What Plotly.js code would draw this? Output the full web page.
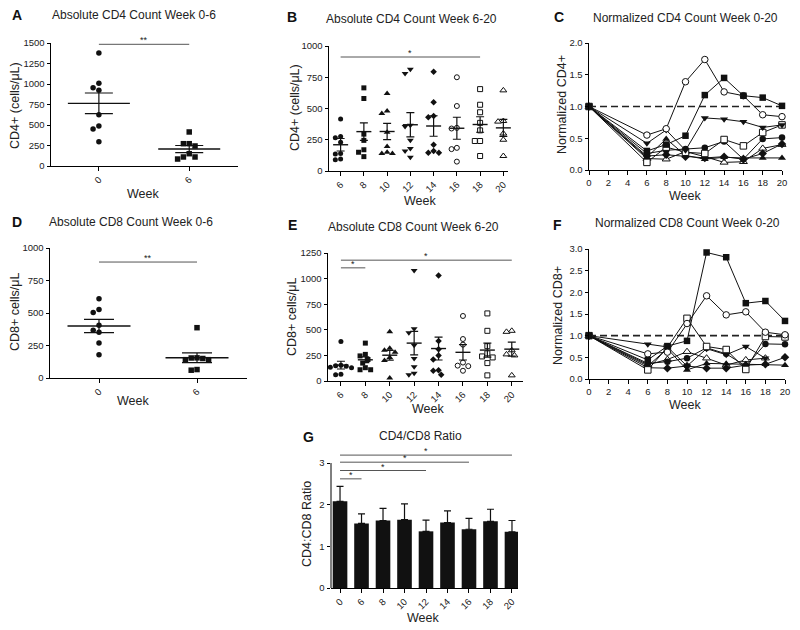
<!DOCTYPE html>
<html><head><meta charset="utf-8">
<script src="https://cdn.plot.ly/plotly-3.0.1.min.js"></script>
<style>html,body{margin:0;padding:0;background:#fff}#chart{width:800px;height:630px}</style>
</head><body><div id="chart"></div>
<script>
// ================= DATA =================
// Panel A: absolute CD4, week 0-6
const weeksA = ['0', '6'];
const cd4Week0to6 = [[1378, 1008, 955, 923, 626, 488, 451, 297], [415, 272, 244, 272, 110, 85, 110, 150]];
const cd4Week0to6Mean = [764, 207];
const cd4Week0to6Sem = [126, 43];
const sigA_from = [0], sigA_to = [1], sigA_y = [1484], sigA_label = ['**'];

// Panel B: absolute CD4, week 6-20
const weeksB = ['6', '8', '10', '12', '14', '16', '18', '20'];
const cd4Week6to20 = [
  [415, 275, 265, 230, 140, 135, 95, 90],
  [665, 580, 295, 245, 170, 150, 115],
  [620, 480, 460, 310, 195, 150, 140, 140],
  [815, 780, 365, 355, 245, 180, 160, 110],
  [795, 550, 440, 430, 210, 160, 145, 145],
  [750, 520, 345, 340, 185, 175, 75],
  [655, 530, 470, 385, 325, 240, 240, 120],
  [645, 400, 395, 300, 250, 120]
];
const cd4Week6to20Mean = [210, 315, 316, 370, 360, 342, 372, 345];
const cd4Week6to20Sem = [50, 70, 65, 97, 82, 88, 62, 68];
const sigB_from = [0], sigB_to = [6], sigB_y = [912], sigB_label = ['*'];

// Panel C: normalized CD4, week 0-20 (one line per animal)
const weeksLine = [0, 6, 8, 10, 12, 14, 16, 18, 20];
const cd4NormOpenCircle   = [1, 0.55, 0.65, 1.39, 1.74, 1.23, 1.17, 0.87, 0.84];
const cd4NormFilledSquare = [1, 0.30, 0.40, 0.54, 1.18, 1.45, 1.17, 1.14, 1.01];
const cd4NormTriDown      = [1, 0.42, 0.63, 0.31, 0.82, 0.80, 0.76, 0.67, 0.71];
const cd4NormOpenSquare   = [1, 0.12, 0.36, 0.28, 0.26, 0.48, 0.38, 0.59, 0.71];
const cd4NormFilledCircle = [1, 0.26, 0.31, 0.33, 0.35, 0.45, 0.17, 0.49, 0.51];
const cd4NormDiamond      = [1, 0.22, 0.24, 0.21, 0.19, 0.21, 0.17, 0.26, 0.41];
const cd4NormTriUp        = [1, 0.20, 0.49, 0.23, 0.17, 0.20, 0.19, 0.19, 0.19];
const cd4NormOpenTriUp    = [1, 0.18, 0.17, 0.29, 0.21, 0.12, 0.13, 0.34, 0.40];

// Panel D: absolute CD8, week 0-6
const weeksD = ['0', '6'];
const cd8Week0to6 = [[610, 503, 526, 405, 351, 367, 269, 179], [387, 154, 141, 141, 150, 155, 60, 65]];
const cd8Week0to6Mean = [400, 156];
const cd8Week0to6Sem = [51, 37];
const sigD_from = [0], sigD_to = [1], sigD_y = [892], sigD_label = ['**'];

// Panel E: absolute CD8, week 6-20
const weeksE = ['6', '8', '10', '12', '14', '16', '18', '20'];
const cd8Week6to20 = [
  [385, 155, 150, 145, 135, 130, 65, 60],
  [370, 260, 245, 210, 175, 130, 110, 110],
  [480, 320, 300, 280, 230, 200, 30],
  [1080, 510, 470, 350, 220, 140, 75, 60],
  [1030, 390, 310, 250, 210, 105, 100, 60],
  [635, 410, 355, 180, 150, 145, 100],
  [660, 490, 340, 270, 240, 230, 175, 55],
  [490, 480, 300, 260, 250, 55]
];
const cd8Week6to20Mean = [155, 207, 252, 370, 317, 280, 302, 311];
const cd8Week6to20Sem = [38, 28, 48, 115, 112, 75, 68, 68];
const sigE_from = [0, 0], sigE_to = [1, 7], sigE_y = [1105, 1180], sigE_label = ['*', '*'];

// Panel F: normalized CD8, week 0-20
const cd8NormFilledSquare = [1, 0.44, 0.76, 0.88, 2.92, 2.81, 1.75, 1.80, 1.34];
const cd8NormOpenCircle   = [1, 0.58, 0.62, 1.28, 1.92, 1.48, 1.55, 1.08, 1.02];
const cd8NormOpenSquare   = [1, 0.21, 0.73, 1.40, 0.75, 0.68, 0.22, 0.98, 0.97];
const cd8NormTriDown      = [1, 0.80, 0.74, 0.30, 0.70, 0.56, 0.75, 0.48, null];
const cd8NormFilledCircle = [1, 0.36, 0.40, 0.48, 0.72, 0.58, 0.30, 0.81, 0.80];
const cd8NormDiamond      = [1, 0.26, 0.25, 0.30, 0.25, 0.25, 0.32, 0.34, 0.50];
const cd8NormTriUp        = [1, 0.30, 0.70, 0.21, 0.36, 0.35, 0.34, 0.34, 0.32];
const cd8NormOpenTriUp    = [1, 0.33, 0.45, 0.63, 0.48, 0.32, 0.44, 0.48, null];

// Panel G: CD4/CD8 ratio
const weeksG = ['0', '6', '8', '10', '12', '14', '16', '18', '20'];
const cd4cd8Ratio = [2.08, 1.55, 1.62, 1.64, 1.36, 1.57, 1.41, 1.60, 1.35];
const cd4cd8RatioErr = [0.36, 0.23, 0.29, 0.38, 0.27, 0.28, 0.26, 0.29, 0.27];
const sigG_from = [0, 0, 0, 0], sigG_to = [1, 4, 6, 8], sigG_y = [2.62, 2.82, 3.02, 3.19], sigG_label = ['*', '*', '*', '*'];

// ================= LAYOUT HELPERS =================
const W = 800, H = 630;
const FONT = 'Liberation Sans, Arial, sans-serif';
const INK = '#111';
const px = (x) => x / W;
const py = (y) => 1 - y / H;
const domX = (a, b) => [px(a), px(b)];
const domY = (top, bottom) => [py(bottom), py(top)];

const axBase = {
  showline: true, linecolor: '#000', linewidth: 1, mirror: false,
  ticks: 'outside', ticklen: 3.5, tickwidth: 1, tickcolor: '#000',
  showgrid: false, zeroline: false, fixedrange: true,
  tickfont: { family: FONT, size: 9.5, color: '#222' }
};
function catX(anchor, dom, range, labels) {
  return Object.assign({}, axBase, { anchor, domain: dom, range, tickmode: 'array',
    tickvals: labels.map((_, i) => i), ticktext: labels, tickangle: -45 });
}
function linY(anchor, dom, range, dtick, fmt) {
  return Object.assign({}, axBase, { anchor, domain: dom, range, tickmode: 'linear', tick0: 0, dtick, tickformat: fmt || '' });
}

const P = {
  A: { x: domX(51, 238), y: domY(43, 166), xr: [-0.53, 1.54], yr: [0, 1500] },
  B: { x: domX(329, 508), y: domY(46, 171), xr: [-0.5, 7.2], yr: [0, 1000] },
  C: { x: domX(589, 782), y: domY(43, 170), xr: [0, 20], yr: [0, 2] },
  D: { x: domX(50, 247), y: domY(248, 378), xr: [-0.5, 1.51], yr: [0, 1000] },
  E: { x: domX(328, 523), y: domY(253, 381), xr: [-0.53, 7.46], yr: [0, 1250] },
  F: { x: domX(589, 785), y: domY(249, 379), xr: [0, 20], yr: [0, 3] },
  G: { x: domX(331, 518), y: domY(452.6, 588), xr: [-0.42, 8.28], yr: [0, 3.25] }
};
function scale(p) {
  return { sx: (p.x[1] - p.x[0]) * W / (p.xr[1] - p.xr[0]), sy: (p.y[1] - p.y[0]) * H / (p.yr[1] - p.yr[0]) };
}

// beeswarm-like horizontal offsets (computed, in axis units)
function swarm(vals, sx, sy, d) {
  const step = d / 2;
  const order = vals.map((_, i) => i).sort((a, b) => vals[b] - vals[a]);
  const placed = [], off = new Array(vals.length).fill(0);
  for (const i of order) {
    for (let k = 0; k < 30; k++) {
      const o = k === 0 ? 0 : (k % 2 ? -Math.ceil(k / 2) : Math.ceil(k / 2)) * step;
      let ok = true;
      for (const p of placed) {
        if (Math.hypot(o - p.x, (vals[i] - p.y) * sy) < d - 0.01) { ok = false; break; }
      }
      if (ok) { off[i] = o / sx; placed.push({ x: o, y: vals[i] }); break; }
    }
  }
  return off;
}

const traces = [];
const annotations = [];
const shapes = [];

const SYM = {
  filledCircle: { symbol: 'circle', color: INK, line: { color: INK, width: 0 } },
  filledSquare: { symbol: 'square', color: INK, line: { color: INK, width: 0 } },
  triUp: { symbol: 'triangle-up', color: INK, line: { color: INK, width: 0 } },
  triDown: { symbol: 'triangle-down', color: INK, line: { color: INK, width: 0 } },
  diamond: { symbol: 'diamond', color: INK, line: { color: INK, width: 0 } },
  openCircle: { symbol: 'circle', color: '#fff', line: { color: INK, width: 1 } },
  openSquare: { symbol: 'square', color: '#fff', line: { color: INK, width: 1 } },
  openTriUp: { symbol: 'triangle-up', color: '#fff', line: { color: INK, width: 1 } }
};
const weekSymbols = ['filledCircle', 'filledSquare', 'triUp', 'triDown', 'diamond', 'openCircle', 'openSquare', 'openTriUp'];

function dotPanel(ax, p, groups, symbols, means, sems, size, meanLen, capW) {
  const { sx, sy } = scale(p);
  groups.forEach((vals, gi) => {
    const off = swarm(vals, sx, sy, size + 0.3);
    const s = SYM[symbols[gi]];
    traces.push({
      type: 'scatter', mode: 'markers', xaxis: 'x' + ax, yaxis: 'y' + ax, cliponaxis: false,
      x: vals.map((_, i) => gi + off[i]), y: vals, hoverinfo: 'skip',
      marker: { symbol: s.symbol, size: (s.symbol.indexOf('triangle') === 0 ? size + 1 : size), color: s.color, line: s.line }
    });
  });
  traces.push({
    type: 'scatter', mode: 'markers', xaxis: 'x' + ax, yaxis: 'y' + ax, cliponaxis: false,
    x: means.map((_, i) => i), y: means, hoverinfo: 'skip',
    marker: { symbol: 'line-ew', size: meanLen / 1.4, color: INK, line: { color: INK, width: 1.4 } },
    error_y: { type: 'data', array: sems, visible: true, color: INK, thickness: 1.2, width: capW }
  });
}

function sigLines(ax, from, to, ys, labels, starSize) {
  from.forEach((f, i) => {
    traces.push({ type: 'scatter', mode: 'lines', xaxis: 'x' + ax, yaxis: 'y' + ax, hoverinfo: 'skip',
      x: [f, to[i]], y: [ys[i], ys[i]], line: { color: '#555', width: 1 } });
    annotations.push({ xref: 'x' + ax, yref: 'y' + ax, x: (f + to[i]) / 2, y: ys[i], text: labels[i],
      showarrow: false, yanchor: 'bottom', yshift: -3, font: { family: FONT, size: starSize || 9, color: '#222' } });
  });
}

function linePanel(ax, series) {
  traces.push({ type: 'scatter', mode: 'lines', xaxis: 'x' + ax, yaxis: 'y' + ax, hoverinfo: 'skip',
    x: [weeksLine[0], weeksLine[weeksLine.length - 1]], y: [1, 1], line: { color: '#222', width: 1.6, dash: '7px,4px' } });
  series.forEach(([vals, symName]) => {
    const s = SYM[symName];
    traces.push({ type: 'scatter', mode: 'lines+markers', xaxis: 'x' + ax, yaxis: 'y' + ax, cliponaxis: false,
      hoverinfo: 'skip', connectgaps: false, x: weeksLine, y: vals, line: { color: INK, width: 1 },
      marker: { symbol: s.symbol, size: (s.symbol.indexOf('triangle') === 0 ? 7 : 6.5), color: s.color, line: s.line } });
  });
}

// ---- Panel A ----
dotPanel('', P.A, cd4Week0to6, ['filledCircle', 'filledSquare'], cd4Week0to6Mean, cd4Week0to6Sem, 5.5, 62, 14);
sigLines('', sigA_from, sigA_to, sigA_y, sigA_label);
// ---- Panel B ----
dotPanel('2', P.B, cd4Week6to20, weekSymbols, cd4Week6to20Mean, cd4Week6to20Sem, 5, 15, 4);
sigLines('2', sigB_from, sigB_to, sigB_y, sigB_label);
// ---- Panel C ----
linePanel('3', [
  [cd4NormOpenTriUp, 'openTriUp'], [cd4NormTriUp, 'triUp'], [cd4NormDiamond, 'diamond'],
  [cd4NormFilledCircle, 'filledCircle'], [cd4NormOpenSquare, 'openSquare'], [cd4NormTriDown, 'triDown'],
  [cd4NormOpenCircle, 'openCircle'], [cd4NormFilledSquare, 'filledSquare']
]);
// ---- Panel D ----
dotPanel('4', P.D, cd8Week0to6, ['filledCircle', 'filledSquare'], cd8Week0to6Mean, cd8Week0to6Sem, 5.5, 63, 15);
sigLines('4', sigD_from, sigD_to, sigD_y, sigD_label);
// ---- Panel E ----
dotPanel('5', P.E, cd8Week6to20, weekSymbols, cd8Week6to20Mean, cd8Week6to20Sem, 5, 15, 4);
sigLines('5', sigE_from, sigE_to, sigE_y, sigE_label);
// ---- Panel F ----
linePanel('6', [
  [cd8NormOpenTriUp, 'openTriUp'], [cd8NormTriUp, 'triUp'], [cd8NormDiamond, 'diamond'],
  [cd8NormFilledCircle, 'filledCircle'], [cd8NormTriDown, 'triDown'], [cd8NormOpenSquare, 'openSquare'],
  [cd8NormOpenCircle, 'openCircle'], [cd8NormFilledSquare, 'filledSquare']
]);
// ---- Panel G ----
traces.push({ type: 'bar', xaxis: 'x7', yaxis: 'y7', x: weeksG.map((_, i) => i), y: cd4cd8Ratio, width: 0.68,
  marker: { color: INK, line: { width: 0 } }, hoverinfo: 'skip',
  error_y: { type: 'data', symmetric: false, array: cd4cd8RatioErr, arrayminus: cd4cd8RatioErr.map(() => 0),
    visible: true, color: INK, thickness: 1.2, width: 3.5 } });
sigLines('7', sigG_from, sigG_to, sigG_y, sigG_label);
shapes.push({ type: 'line', xref: 'x7 domain', x0: 0, x1: 0, yref: 'y7', y0: 0, y1: 3, line: { color: '#000', width: 1 } });

// ---- Text: panel letters, titles, axis titles ----
function txt(x, y, text, opts) {
  annotations.push(Object.assign({ xref: 'paper', yref: 'paper', x: px(x), y: py(y), text, showarrow: false,
    xanchor: 'center', yanchor: 'middle', font: { family: FONT, size: 12, color: '#222' } }, opts || {}));
}
const letterFont = { family: FONT, size: 14, color: '#111', weight: 'bold' };
[['A', 17, 15], ['B', 292, 17], ['C', 559, 17], ['D', 17, 222], ['E', 292, 225], ['F', 557, 225], ['G', 308, 437]]
  .forEach(([t, x, y]) => txt(x, y, '<b>' + t + '</b>', { font: letterFont }));
[['Absolute CD4 Count Week 0-6', 134, 15], ['Absolute CD4 Count Week 6-20', 411, 19], ['Normalized CD4 Count Week 0-20', 685, 18],
 ['Absolute CD8 Count Week 0-6', 131, 222], ['Absolute CD8 Count Week 6-20', 414, 227], ['Normalized CD8 Count Week 0-20', 687, 223],
 ['CD4/CD8 Ratio', 420, 436]].forEach(([t, x, y]) => txt(x, y, t, { font: { family: FONT, size: 12, color: '#222' } }));
[[143, 194], [420, 201], [685, 196], [133, 401], [428, 409], [685, 405], [423, 618]]
  .forEach(([x, y]) => txt(x, y, 'Week', { font: { family: FONT, size: 12.5, color: '#222' } }));
[['CD4+ (cells/μL)', 15, 106], ['CD4+ (cells/μL)', 295, 108], ['Normalized CD4+', 562, 105],
 ['CD8+ cells/μL', 15, 312], ['CD8+ cells/μL', 292, 317], ['Normalized CD8+', 558, 316], ['CD4:CD8 Ratio', 307, 524]]
  .forEach(([t, x, y]) => txt(x, y, t, { textangle: -90, font: { family: FONT, size: 12.5, color: '#222' } }));

const layout = {
  width: W, height: H, margin: { l: 0, r: 0, t: 0, b: 0 }, showlegend: false,
  paper_bgcolor: '#fff', plot_bgcolor: 'rgba(0,0,0,0)', font: { family: FONT, color: '#222' },
  xaxis: catX('y', P.A.x, P.A.xr, weeksA), yaxis: linY('x', P.A.y, P.A.yr, 250),
  xaxis2: catX('y2', P.B.x, P.B.xr, weeksB), yaxis2: linY('x2', P.B.y, P.B.yr, 250),
  xaxis3: Object.assign({}, axBase, { anchor: 'y3', domain: P.C.x, range: P.C.xr, tickmode: 'linear', tick0: 0, dtick: 2 }),
  yaxis3: linY('x3', P.C.y, P.C.yr, 0.5, '.1f'),
  xaxis4: catX('y4', P.D.x, P.D.xr, weeksD), yaxis4: linY('x4', P.D.y, P.D.yr, 250),
  xaxis5: catX('y5', P.E.x, P.E.xr, weeksE), yaxis5: linY('x5', P.E.y, P.E.yr, 250),
  xaxis6: Object.assign({}, axBase, { anchor: 'y6', domain: P.F.x, range: P.F.xr, tickmode: 'linear', tick0: 0, dtick: 2 }),
  yaxis6: linY('x6', P.F.y, P.F.yr, 0.5, '.1f'),
  xaxis7: catX('y7', P.G.x, P.G.xr, weeksG),
  yaxis7: Object.assign(linY('x7', P.G.y, P.G.yr, 1), { showline: false, tickmode: 'array', tickvals: [0, 1, 2, 3] }),
  annotations, shapes
};
Plotly.newPlot('chart', traces, layout, { staticPlot: true, displayModeBar: false });
</script></body></html>
